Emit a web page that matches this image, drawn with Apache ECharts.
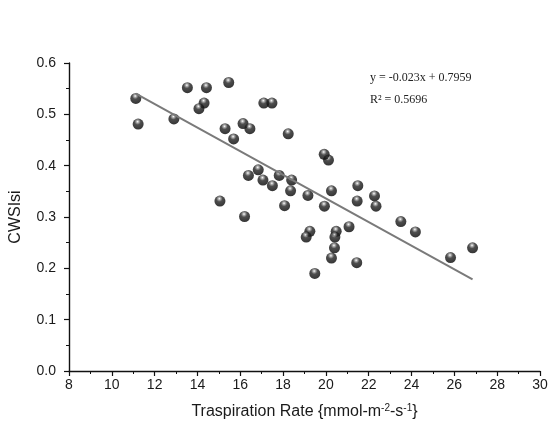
<!DOCTYPE html>
<html><head><meta charset="utf-8">
<script src="https://cdn.jsdelivr.net/npm/echarts@6/dist/echarts.min.js"></script>
<style>html,body{margin:0;padding:0;background:#fff}#c{width:551px;height:423px}</style>
</head><body><div id="c"></div>
<script>
const transpiration = [11.12,11.23,12.9,13.53,14.42,15.46,14.31,14.07,17.1,17.48,16.13,16.45,15.29,15.69,18.24,15.05,16.2,16.84,16.38,17.06,17.5,17.82,18.4,18.35,19.16,18.07,20.12,19.92,20.26,21.49,22.27,21.46,22.34,19.93,19.25,19.08,20.48,20.42,21.08,20.4,20.26,21.44,19.48,23.5,24.18,25.82,26.85];
const cwsi = [0.531,0.481,0.491,0.552,0.552,0.562,0.522,0.511,0.522,0.522,0.482,0.472,0.472,0.452,0.462,0.331,0.301,0.392,0.381,0.372,0.361,0.381,0.372,0.351,0.342,0.322,0.411,0.422,0.351,0.361,0.341,0.331,0.321,0.321,0.272,0.261,0.272,0.261,0.281,0.240,0.220,0.211,0.190,0.291,0.271,0.221,0.240];
const slope = -0.023, intercept = 0.7959;
const eqText = 'y = -0.023x + 0.7959';
const r2Text = 'R² = 0.5696';
const xTicks = [8,10,12,14,16,18,20,22,24,26,28,30];
const yTicks = [0.0,0.1,0.2,0.3,0.4,0.5,0.6];

const pts = transpiration.map((x,i)=>[x,cwsi[i]]);
const xmin = Math.min(...transpiration), xmax = Math.max(...transpiration);
const fit = [[xmin, slope*xmin+intercept],[xmax, slope*xmax+intercept]];

const chart = echarts.init(document.getElementById('c'), null, {renderer:'canvas'});
const sans = 'Liberation Sans, Arial, sans-serif';
chart.setOption({
  animation:false,
  backgroundColor:'#fff',
  grid:{left:69,right:11,top:63,bottom:52,containLabel:false,outerBoundsMode:'none'},
  xAxis:{type:'value',min:xTicks[0],max:xTicks[xTicks.length-1],interval:2,
    splitLine:{show:false},
    axisLine:{show:true,onZero:false,lineStyle:{color:'#111',width:1.4}},
    axisTick:{show:true,inside:false,length:5,lineStyle:{color:'#111',width:1.2}},
    minorTick:{show:true,splitNumber:2,length:3,lineStyle:{color:'#111'}},
    axisLabel:{color:'#1a1a1a',fontFamily:sans,fontSize:14,margin:7},
    name:'Traspiration Rate {mmol-m{s|-2}-s{s|-1}}',nameLocation:'middle',nameGap:32,nameMoveOverlap:false,
    nameTextStyle:{color:'#1a1a1a',fontFamily:sans,fontSize:16,
      rich:{s:{fontSize:10,verticalAlign:'top',padding:[0,0,8,0],fontFamily:sans,color:'#1a1a1a'}}}
  },
  yAxis:{type:'value',min:yTicks[0],max:yTicks[yTicks.length-1],interval:0.1,
    splitLine:{show:false},
    axisLine:{show:true,onZero:false,lineStyle:{color:'#111',width:1.4}},
    axisTick:{show:true,inside:false,length:5,lineStyle:{color:'#111',width:1.2}},
    minorTick:{show:true,splitNumber:2,length:3,lineStyle:{color:'#111'}},
    axisLabel:{color:'#1a1a1a',fontFamily:sans,fontSize:14,margin:13,formatter:v=>v.toFixed(1)},
    name:'CWSIsi',nameLocation:'middle',nameGap:45,nameRotate:90,nameMoveOverlap:false,
    nameTextStyle:{color:'#1a1a1a',fontFamily:sans,fontSize:16}
  },
  graphic:[
    {type:'text',left:370,top:72,style:{text:eqText,font:'12px "Liberation Serif", serif',fill:'#222'}},
    {type:'text',left:370,top:94,style:{text:r2Text,font:'12px "Liberation Serif", serif',fill:'#222'}}
  ],
  series:[
    {type:'scatter',data:pts,symbolSize:11,z:2,
      itemStyle:{color:{type:'radial',x:0.45,y:0.28,r:0.75,colorStops:[
        {offset:0,color:'#ffffff'},{offset:0.15,color:'#999'},{offset:0.38,color:'#222'},{offset:1,color:'#000'}]},
        borderWidth:0}},
    {type:'line',data:fit,showSymbol:false,symbol:'none',z:3,
      lineStyle:{color:'#7a7a7a',width:2}}
  ]
});
</script></body></html>
